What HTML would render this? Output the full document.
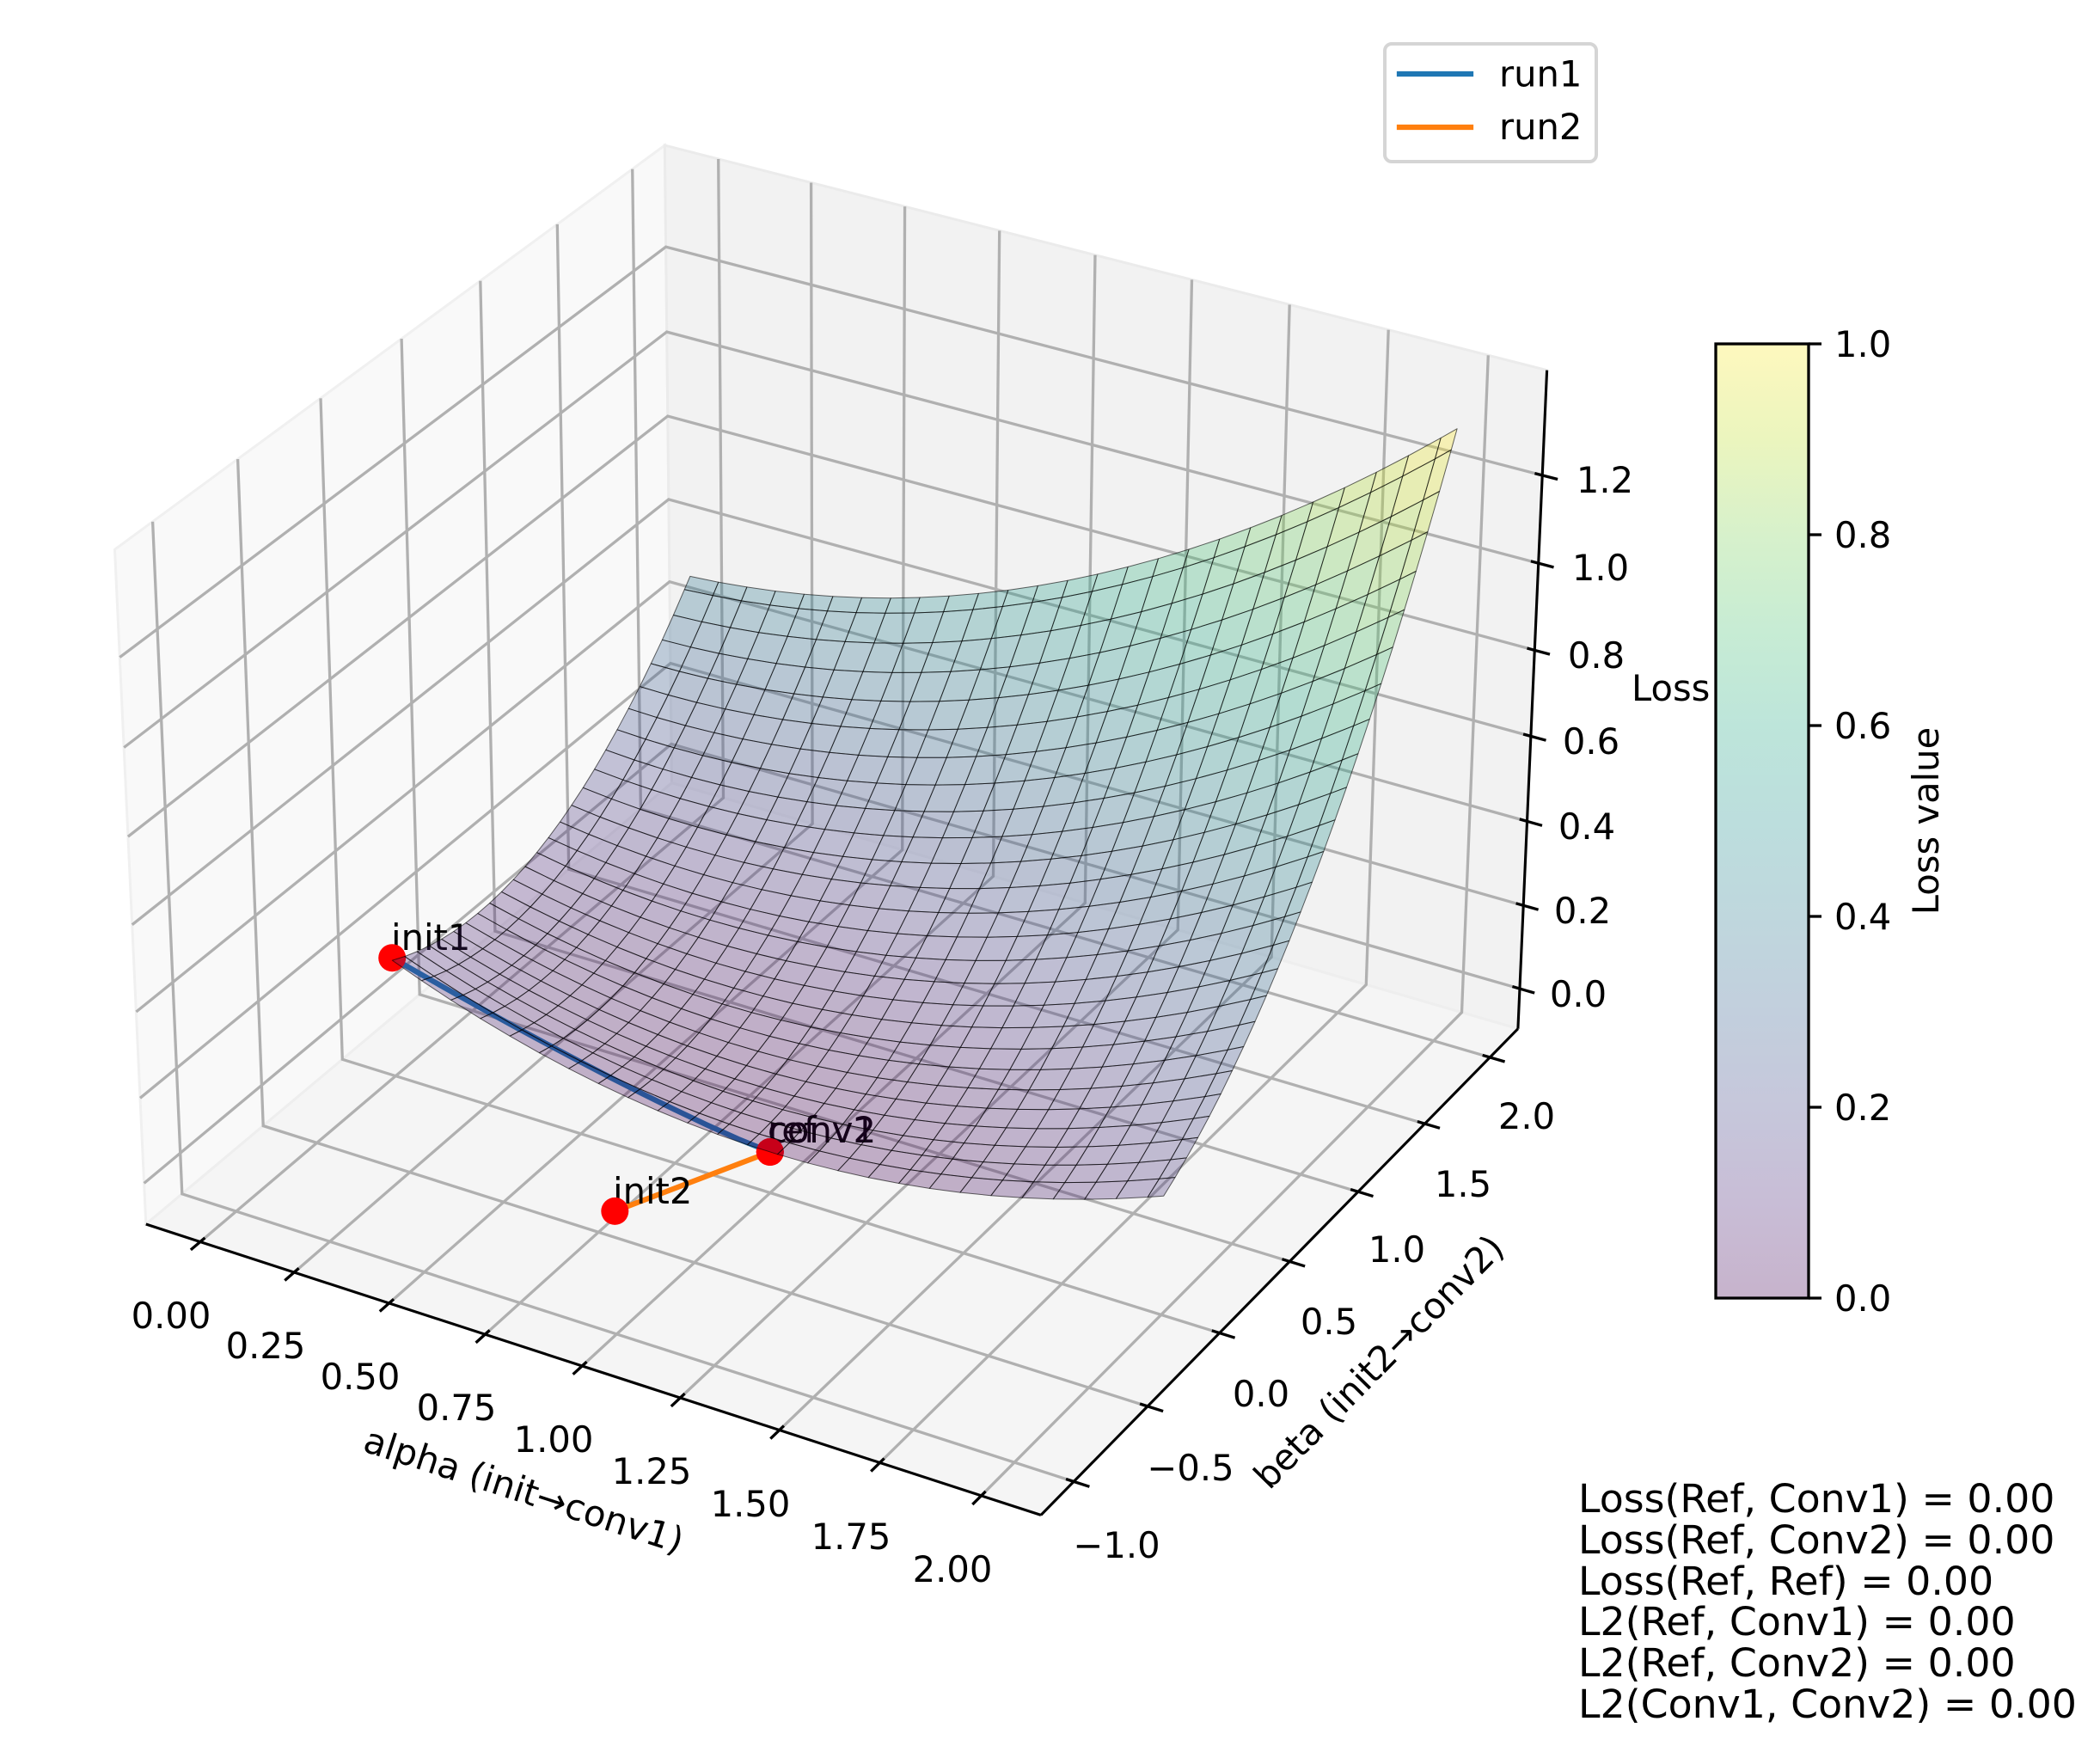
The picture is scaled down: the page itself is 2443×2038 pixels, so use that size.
<!DOCTYPE html>
<html><head><meta charset="utf-8"><style>
html,body{margin:0;padding:0;background:#fff;}
svg{display:block;}
text{font-family:"DejaVu Sans","Liberation Sans",sans-serif;}
</style></head><body>
<svg id="fig" xmlns="http://www.w3.org/2000/svg" width="2443" height="2038" viewBox="0 0 2443 2038">
<defs>
<linearGradient id="cb" x1="0" y1="1" x2="0" y2="0">
 <stop offset="0" stop-color="rgb(199,179,204)"/>
 <stop offset="0.1" stop-color="rgb(200,189,214)"/>
 <stop offset="0.2" stop-color="rgb(198,199,219)"/>
 <stop offset="0.3" stop-color="rgb(194,207,221)"/>
 <stop offset="0.4" stop-color="rgb(191,215,221)"/>
 <stop offset="0.5" stop-color="rgb(188,222,221)"/>
 <stop offset="0.6" stop-color="rgb(189,229,218)"/>
 <stop offset="0.7" stop-color="rgb(199,236,212)"/>
 <stop offset="0.8" stop-color="rgb(215,241,203)"/>
 <stop offset="0.9" stop-color="rgb(235,245,190)"/>
 <stop offset="1" stop-color="rgb(254,248,190)"/>
</linearGradient>
</defs>
<rect x="0" y="0" width="2443" height="2038" fill="#fff"/>
<g id="g1"></g>

<!-- alpha tick labels -->
<g font-size="41.67" fill="#000" text-anchor="middle">
<text x="199" y="1545">0.00</text>
<text x="309" y="1580">0.25</text>
<text x="419" y="1616">0.50</text>
<text x="531" y="1652">0.75</text>
<text x="644" y="1689">1.00</text>
<text x="758" y="1726">1.25</text>
<text x="873" y="1764">1.50</text>
<text x="990" y="1802">1.75</text>
<text x="1108" y="1840">2.00</text>
</g>
<!-- beta tick labels -->
<g font-size="41.67" fill="#000" text-anchor="middle">
<text x="1299" y="1812">−1.0</text>
<text x="1385" y="1722">−0.5</text>
<text x="1467" y="1636">0.0</text>
<text x="1546" y="1552">0.5</text>
<text x="1625" y="1468">1.0</text>
<text x="1702" y="1392">1.5</text>
<text x="1776" y="1313">2.0</text>
</g>
<!-- z tick labels -->
<g font-size="41.67" fill="#000" text-anchor="middle">
<text x="1836" y="1171">0.0</text>
<text x="1841" y="1074">0.2</text>
<text x="1846" y="976">0.4</text>
<text x="1851" y="877">0.6</text>
<text x="1857" y="777">0.8</text>
<text x="1862" y="675">1.0</text>
<text x="1867" y="573">1.2</text>
</g>
<!-- axis labels -->
<g font-size="41.67" fill="#000">
<text transform="translate(609,1735) rotate(18)" x="0" y="13" text-anchor="middle">alpha (init→conv1)</text>
<text transform="translate(1605,1585) rotate(-45.5)" x="0" y="13" text-anchor="middle">beta (init2→conv2)</text>
<text x="1898" y="815">Loss</text>
</g>

<g id="g2"></g>

<!-- point labels -->
<g font-size="41.67" fill="#000">
<text x="455" y="1105">init1</text>
<text x="713" y="1400">init2</text>
<text x="893" y="1329">ref</text>
<text x="893" y="1329">conv1</text>
<text x="893" y="1329">conv2</text>
</g>

<g id="g3"></g>
<g id="g4"></g>

<!-- legend -->
<rect x="1611" y="51" width="246" height="137" rx="8" ry="8" fill="#fff" fill-opacity="0.8" stroke="#d5d5d5" stroke-width="4"/>
<line x1="1628" y1="86" x2="1711" y2="86" stroke="#1f77b4" stroke-width="6.25" stroke-linecap="square"/>
<line x1="1628" y1="148" x2="1711" y2="148" stroke="#ff7f0e" stroke-width="6.25" stroke-linecap="square"/>
<g font-size="41.67" fill="#000">
<text x="1744" y="100.5">run1</text>
<text x="1744" y="162">run2</text>
</g>

<!-- colorbar -->
<rect x="1996" y="400" width="108" height="1110" fill="url(#cb)" stroke="#000" stroke-width="3.3"/>
<g stroke="#000" stroke-width="3.3">
<line x1="2104" y1="400" x2="2119" y2="400"/>
<line x1="2104" y1="622" x2="2119" y2="622"/>
<line x1="2104" y1="844" x2="2119" y2="844"/>
<line x1="2104" y1="1066" x2="2119" y2="1066"/>
<line x1="2104" y1="1288" x2="2119" y2="1288"/>
<line x1="2104" y1="1510" x2="2119" y2="1510"/>
</g>
<g font-size="41.67" fill="#000">
<text x="2134" y="415">1.0</text>
<text x="2134" y="637">0.8</text>
<text x="2134" y="859">0.6</text>
<text x="2134" y="1081">0.4</text>
<text x="2134" y="1303">0.2</text>
<text x="2134" y="1525">0.0</text>
<text transform="translate(2255,955) rotate(-90)" x="0" y="0" text-anchor="middle">Loss value</text>
</g>

<!-- stats text -->
<g font-size="45.83" fill="#000">
<text x="1836" y="1759">Loss(Ref, Conv1) = 0.00</text>
<text x="1836" y="1807">Loss(Ref, Conv2) = 0.00</text>
<text x="1836" y="1855">Loss(Ref, Ref) = 0.00</text>
<text x="1836" y="1902">L2(Ref, Conv1) = 0.00</text>
<text x="1836" y="1950">L2(Ref, Conv2) = 0.00</text>
<text x="1836" y="1998">L2(Conv1, Conv2) = 0.00</text>
</g>
</svg>
<script>
(function(){
const NS="http://www.w3.org/2000/svg";
const S=10440, CX=982, CY=929;
const k=1.8294640721620434/Math.sqrt(41);
const asp=[4*k,4*k,3*k];
const R=asp.map(t=>t/2);
const el=Math.PI/6, az=-Math.PI/3;
const W=[Math.cos(el)*Math.cos(az), Math.cos(el)*Math.sin(az), Math.sin(el)];
const eye=[R[0]+10*W[0], R[1]+10*W[1], R[2]+10*W[2]];
function cross(p,q){return [p[1]*q[2]-p[2]*q[1], p[2]*q[0]-p[0]*q[2], p[0]*q[1]-p[1]*q[0]];}
function dot(p,q){return p[0]*q[0]+p[1]*q[1]+p[2]*q[2];}
let U=cross([0,0,1],W); const nu=Math.hypot(U[0],U[1],U[2]); U=U.map(t=>t/nu);
const V=cross(W,U);
const XL=[-0.1458,2.1458], YL=[-1.21875,2.21875], ZL=[-0.097,1.436];
function wpt(x,y,z){return [(x-XL[0])/(XL[1]-XL[0])*asp[0],(y-YL[0])/(YL[1]-YL[0])*asp[1],(z-ZL[0])/(ZL[1]-ZL[0])*asp[2]];}
function pw(P){const d=[P[0]-eye[0],P[1]-eye[1],P[2]-eye[2]]; const zv=-dot(W,d); return [CX+S*dot(U,d)/zv, CY-S*dot(V,d)/zv, zv];}
function pd(x,y,z){return pw(wpt(x,y,z));}
function mk(tag,attrs,parent){const e=document.createElementNS(NS,tag); for(const key in attrs) e.setAttribute(key,attrs[key]); parent.appendChild(e); return e;}
function ps(arr){return arr.map(p=>p[0].toFixed(1)+','+p[1].toFixed(1)).join(' ');}
const g1=document.getElementById('g1'), g2=document.getElementById('g2'), g3=document.getElementById('g3'), g4=document.getElementById('g4');
const a=asp[0], c=asp[2];
// panes
mk('polygon',{points:ps([[0,0,0],[0,a,0],[0,a,c],[0,0,c]].map(pw)),fill:'#f9f9f9',stroke:'#f0f0f0','stroke-width':3},g1);
mk('polygon',{points:ps([[0,a,0],[a,a,0],[a,a,c],[0,a,c]].map(pw)),fill:'#f2f2f2',stroke:'#ebebeb','stroke-width':3},g1);
mk('polygon',{points:ps([[0,0,0],[a,0,0],[a,a,0],[0,a,0]].map(pw)),fill:'#f5f5f5',stroke:'#eeeeee','stroke-width':3},g1);
// grid
const gs={fill:'none',stroke:'#b0b0b0','stroke-width':3.3,'stroke-linejoin':'miter'};
function gl(pts){const o=Object.assign({points:ps(pts.map(pw))},gs); mk('polyline',o,g1);}
const xt=[],yt=[],zt=[];
for(let i=0;i<=8;i++) xt.push(i*0.25);
for(let i=0;i<=6;i++) yt.push(-1+i*0.5);
for(let i=0;i<=6;i++) zt.push(i*0.2);
xt.forEach(x=>{const X=wpt(x,0,0)[0]; gl([[X,0,0],[X,a,0],[X,a,c]]);});
yt.forEach(y=>{const Y=wpt(0,y,0)[1]; gl([[a,Y,0],[0,Y,0],[0,Y,c]]);});
zt.forEach(z=>{const Z=wpt(0,0,z)[2]; gl([[0,0,Z],[0,a,Z],[a,a,Z]]);});
// axis lines
function ln(p,q,w,col,par){const A=pw(p),B=pw(q); mk('line',{x1:A[0].toFixed(1),y1:A[1].toFixed(1),x2:B[0].toFixed(1),y2:B[1].toFixed(1),stroke:col||'#000','stroke-width':w||3.1,'stroke-linecap':'butt'},par||g1);}
ln([0,0,0],[a,0,0]); ln([a,0,0],[a,a,0]); ln([a,a,0],[a,a,c]);
const d=a/12;
xt.forEach(x=>{const X=wpt(x,0,0)[0]; ln([X,-0.2*d,0],[X,0.1*d,0],3.3);});
yt.forEach(y=>{const Y=wpt(0,y,0)[1]; ln([a+0.2*d,Y,0],[a-0.1*d,Y,0],3.3);});
zt.forEach(z=>{const Z=wpt(0,0,z)[2]; ln([a+0.2*d,a,Z],[a-0.1*d,a,Z],3.3);});
// runs
const r1=[]; for(let i=0;i<=12;i++){const t=i/12; r1.push(pd(t,0,0.186*Math.pow(1-t,1.3)));}
mk('polyline',{points:ps(r1),fill:'none',stroke:'#1f77b4','stroke-width':6.25,'stroke-linejoin':'round','stroke-linecap':'square'},g2);
mk('polyline',{points:ps([pd(1,-1,0.189),pd(1,0,0)]),fill:'none',stroke:'#ff7f0e','stroke-width':6.25,'stroke-linecap':'square'},g2);
// scatter
[[0,0,0.186],[1,-1,0.189],[1,0,0],[1,0,0],[1,0,0]].forEach(p=>{const q=pd(p[0],p[1],p[2]); mk('circle',{cx:q[0].toFixed(1),cy:q[1].toFixed(1),r:16,fill:'#ff0000'},g3);});
// viridis
const VS=[[68,1,84],[72,36,117],[65,68,135],[53,95,141],[42,120,142],[33,145,140],[34,168,132],[68,191,112],[122,209,81],[189,223,38],[253,231,37]];
function vir(t){t=Math.max(0,Math.min(1,t)); const f=t*10; let i=Math.floor(f); if(i>=10)i=9; const r=f-i; const A=VS[i],B=VS[i+1];
 return 'rgb('+Math.round(A[0]+(B[0]-A[0])*r)+','+Math.round(A[1]+(B[1]-A[1])*r)+','+Math.round(A[2]+(B[2]-A[2])*r)+')';}
// surface
const N=52, al=[], be=[];
for(let i=0;i<N;i++){al.push(2*i/(N-1)); be.push(2*i/(N-1));}
const idx=[]; for(let i=0;i<N-1;i+=2) idx.push(i); idx.push(N-1);
function Lf(x,y){const t=x-1; return 0.18*t*t+0.185*y*y+0.205*t*y;}
const polys=[]; let mn=1e9,mx=-1e9;
for(let i=0;i<idx.length-1;i++) for(let j=0;j<idx.length-1;j++){
  const cs=[[al[idx[i]],be[idx[j]]],[al[idx[i+1]],be[idx[j]]],[al[idx[i+1]],be[idx[j+1]]],[al[idx[i]],be[idx[j+1]]]];
  let zs=0,dep=0; const sp=[];
  cs.forEach(([x,y])=>{const z=Lf(x,y); zs+=z; const p=pd(x,y,z); sp.push(p); dep+=p[2];});
  zs/=4; dep/=4; if(zs<mn)mn=zs; if(zs>mx)mx=zs;
  polys.push({sp:sp,zs:zs,dep:dep});
}
polys.sort((p,q)=>q.dep-p.dep);
polys.forEach(p=>{mk('polygon',{points:ps(p.sp),fill:vir((p.zs-mn)/(mx-mn)),'fill-opacity':0.3,stroke:'#000','stroke-opacity':0.6,'stroke-width':1.0,'stroke-linejoin':'round'},g4);});
})();
</script>
</body></html>
